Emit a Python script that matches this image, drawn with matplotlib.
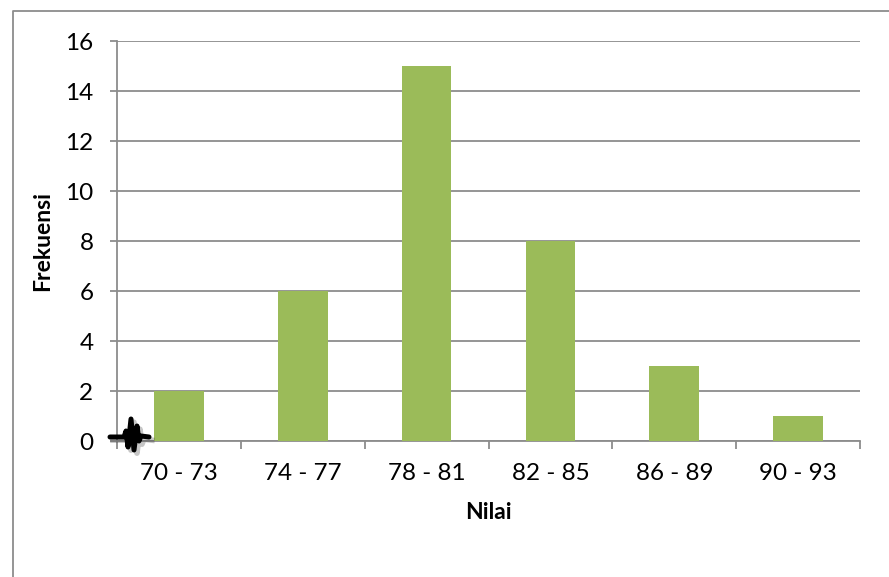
import numpy as np
import matplotlib
matplotlib.use("Agg")
import matplotlib.pyplot as plt
from matplotlib.lines import Line2D

# frequency table of scores
kelas = ["70 - 73", "74 - 77", "78 - 81", "82 - 85", "86 - 89", "90 - 93"]
frekuensi = [2, 6, 15, 8, 3, 1]
yticks = [0, 2, 4, 6, 8, 10, 12, 14, 16]

plt.rcParams['font.family'] = ['Lato', 'DejaVu Sans']

fig = plt.figure(figsize=(8.89, 5.77), dpi=100)
ax = fig.add_axes([117/889, 1 - 441/577, 743/889, 400/577])

x = np.arange(len(kelas))
ax.bar(x, frekuensi, width=0.4, color='#9BBB59', zorder=3)

ax.set_xlim(-0.5, len(kelas) - 0.5)
ax.set_ylim(0, 16)
ax.set_yticks(yticks)
ax.set_yticklabels([str(v) for v in yticks])
ax.yaxis.grid(True, color='#8c8c8c', linewidth=1.3, zorder=0)

# category labels centred, tick marks on the category boundaries
ax.set_xticks(x)
ax.set_xticklabels(kelas)
ax.set_xticks(np.arange(len(kelas) + 1) - 0.5, minor=True)
ax.tick_params(axis='x', which='major', length=0, labelsize=17.5, pad=16)
ax.tick_params(axis='x', which='minor', length=6, width=1.3, color='#8c8c8c')
ax.tick_params(axis='y', length=5, width=1.3, color='#8c8c8c', labelsize=17.5, pad=12)

for side in ['top', 'right']:
    ax.spines[side].set_visible(False)
for side in ['left', 'bottom']:
    ax.spines[side].set_color('#8c8c8c')
    ax.spines[side].set_linewidth(1.3)

ax.set_xlabel('Nilai', fontsize=16.5, fontweight='bold', labelpad=13)
ax.set_ylabel('Frekuensi', fontsize=16.5, fontweight='bold', labelpad=9)

# axis break squiggle near the origin, given in pixels and mapped to axes fractions
px = np.array([110, 124, 126, 128, 131, 134, 137, 139, 141, 149])
py = np.array([437, 437, 431, 447, 419, 450, 426, 441, 436, 437])
fx = (px - 117) / 743
fy = (441 - py) / 400
ax.plot(fx + 0.004, fy - 0.008, color='#444444', alpha=0.3, linewidth=4.0,
        transform=ax.transAxes, clip_on=False, zorder=5, solid_joinstyle='round')
ax.plot(fx, fy, color='black', linewidth=3.6, transform=ax.transAxes,
        clip_on=False, zorder=6, solid_joinstyle='round', solid_capstyle='round')

# chart area frame
fig.add_artist(Line2D([13/889, 13/889, 1.0], [0.0, 1 - 11/577, 1 - 11/577],
                      transform=fig.transFigure, color='#8c8c8c', linewidth=1.3))

fig.savefig('out.png', dpi=100)
